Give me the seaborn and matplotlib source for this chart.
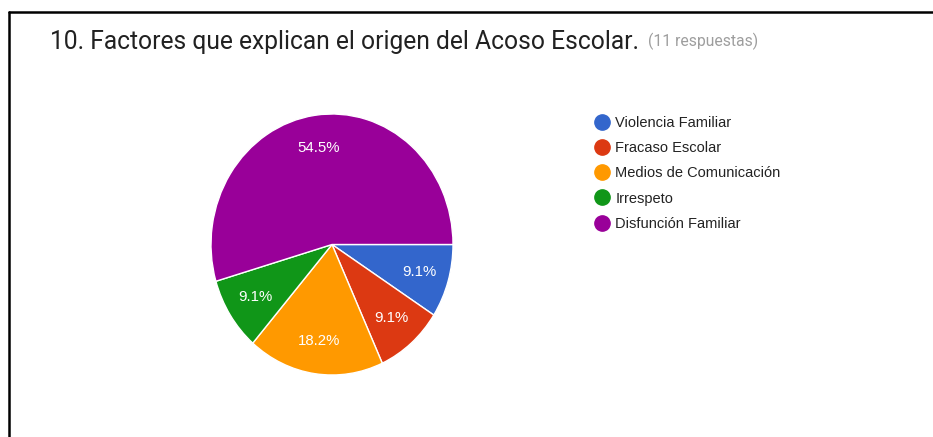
import seaborn as sns
import matplotlib.pyplot as plt
from matplotlib.lines import Line2D

# data
categories = ["Violencia Familiar", "Fracaso Escolar", "Medios de Comunicación",
              "Irrespeto", "Disfunción Familiar"]
counts = [1, 1, 2, 1, 6]
colors = ["#3366cc", "#dc3912", "#ff9900", "#109618", "#990099"]
title = "10. Factores que explican el origen del Acoso Escolar."
subtitle = "(11 respuestas)"

sns.set_theme(style="white")
plt.rcParams["font.family"] = ["Liberation Sans", "DejaVu Sans"]

fig = plt.figure(figsize=(9.33, 4.37), dpi=100)
W, H = 933, 437

# frame lines of the card (top and left only)
fig.add_artist(Line2D([9 / W, 1], [1 - 12 / H, 1 - 12 / H], color="black", lw=1.8))
fig.add_artist(Line2D([9 / W, 9 / W], [0, 1 - 12 / H], color="black", lw=1.8))

# title
fig.text(50 / W, 1 - 42 / H, title, family="Roboto", fontsize=17.7, color="#212121",
         va="center", ha="left")
fig.text(648 / W, 1 - 41 / H, subtitle, family="Roboto", fontsize=11.3, color="#9e9e9e",
         va="center", ha="left")

# pie (screenshot is slightly stretched vertically)
ax = fig.add_axes([211 / W, 1 - 375 / H, 242 / W, 261 / H])
wedges, texts, autotexts = ax.pie(
    counts, colors=colors, startangle=0, counterclock=False,
    autopct="%1.1f%%", pctdistance=0.75,
    wedgeprops=dict(edgecolor="white", linewidth=1.0),
    textprops=dict(color="white", fontsize=10.8),
)
ax.set_aspect("auto")
ax.set_xlim(-1, 1)
ax.set_ylim(-1, 1)

handles = [Line2D([0], [0], marker="o", linestyle="", markersize=11,
                  markerfacecolor=c, markeredgecolor=c) for c in colors]
fig.legend(handles, categories, loc="upper left",
           bbox_to_anchor=(586 / W, 1 - 109 / H), frameon=False,
           fontsize=10.5, labelspacing=0.76, handletextpad=0.3,
           handlelength=1.2, borderpad=0, labelcolor="#222222")

plt.savefig("out.png", dpi=100)
